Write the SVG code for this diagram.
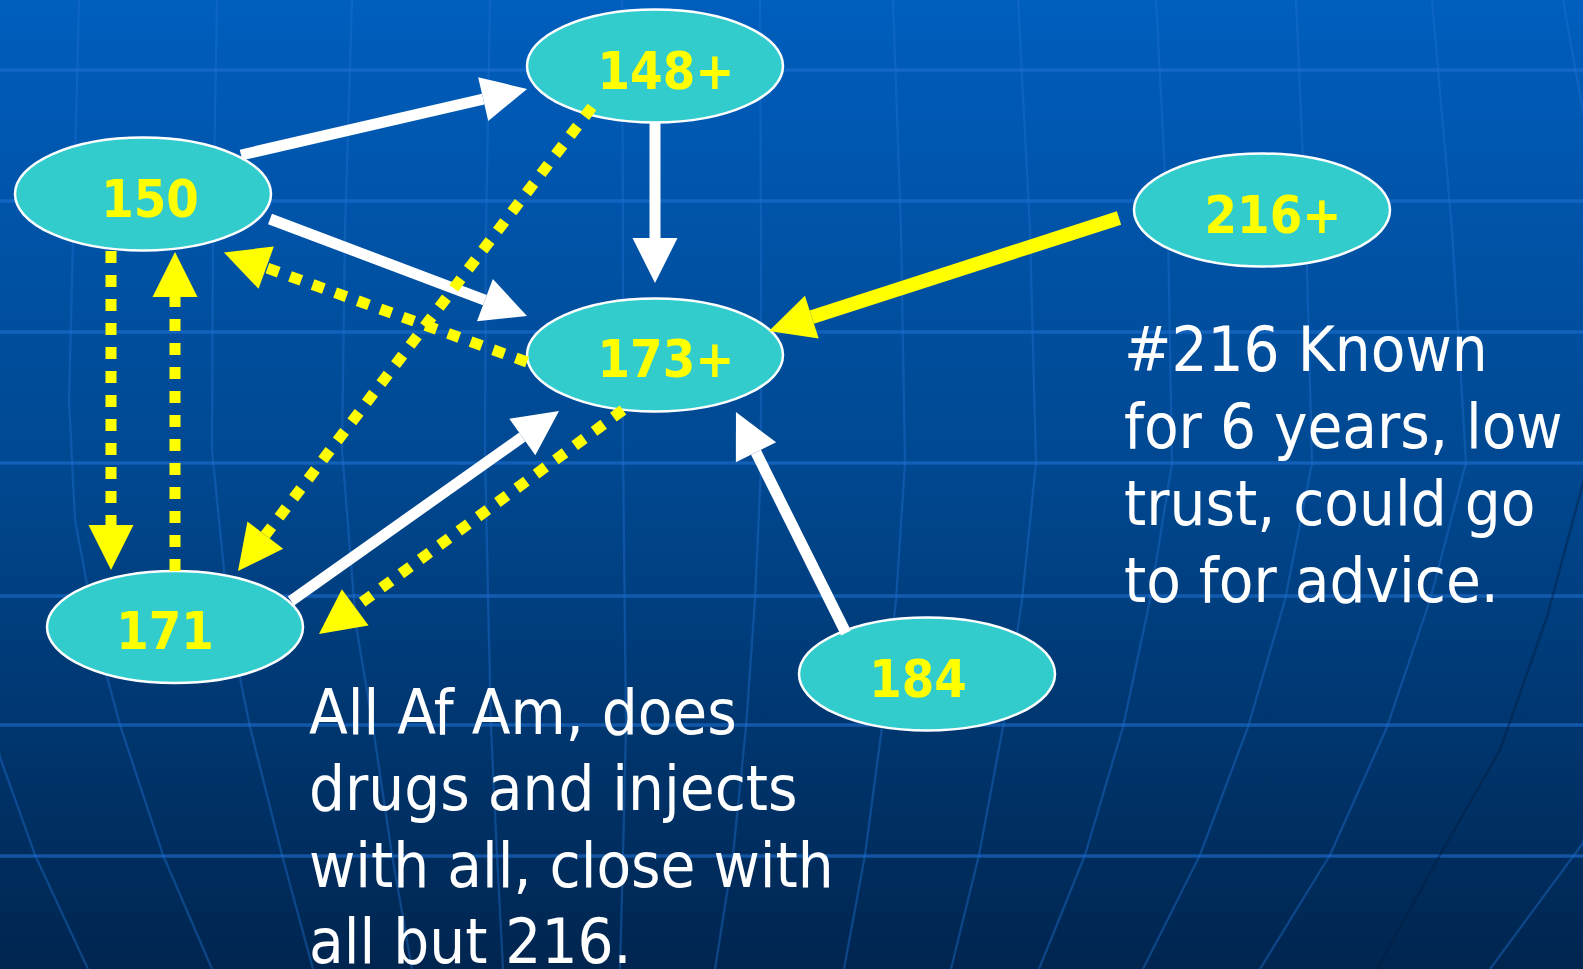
<svg xmlns="http://www.w3.org/2000/svg" width="1583" height="969" viewBox="0 0 1583 969">
<defs>
<linearGradient id="bg" x1="0" y1="0" x2="0" y2="1">
<stop offset="0" stop-color="#005ebd"/>
<stop offset="0.5" stop-color="#00478f"/>
<stop offset="1" stop-color="#00254f"/>
</linearGradient>
<marker id="hw" markerUnits="userSpaceOnUse" markerWidth="45" markerHeight="45" viewBox="0 0 45 45" refX="0" refY="22.5" orient="auto" overflow="visible"><path d="M0,0 L45,22.5 L0,45 z" fill="#ffffff"/></marker>
<marker id="hy" markerUnits="userSpaceOnUse" markerWidth="45" markerHeight="45" viewBox="0 0 45 45" refX="0" refY="22.5" orient="auto" overflow="visible"><path d="M0,0 L45,22.5 L0,45 z" fill="#ffff00"/></marker>
<style>
.hl{stroke:#1e6fd0;stroke-opacity:0.6;stroke-width:3.3;fill:none}
.ml{stroke:#1e6fd0;stroke-opacity:0.42;stroke-width:2.3;fill:none;stroke-linejoin:round}
.node ellipse{fill:#33cccc;stroke:#ffffff;stroke-width:2.5}
.lbl{font-family:"DejaVu Sans Condensed","DejaVu Sans",sans-serif;font-weight:bold;font-size:52px;fill:#ffff00;text-anchor:middle}
.note{font-family:"DejaVu Sans Condensed","DejaVu Sans",sans-serif;font-size:63px;fill:#ffffff}
.w{stroke:#ffffff;stroke-width:11;fill:none;marker-end:url(#hw)}
.ys{stroke:#ffff00;stroke-width:14;fill:none;marker-end:url(#hy)}
.d{stroke:#ffff00;stroke-width:11;fill:none;stroke-dasharray:12 12;marker-end:url(#hy)}
</style>
</defs>
<rect x="0" y="0" width="1583" height="969" fill="url(#bg)"/>
<g id="grid">
<line class="hl" x1="0" y1="70" x2="1583" y2="70"/>
<line class="hl" x1="0" y1="201" x2="1583" y2="201"/>
<line class="hl" x1="0" y1="332" x2="1583" y2="332"/>
<line class="hl" x1="0" y1="463" x2="1583" y2="463"/>
<line class="hl" x1="0" y1="596" x2="1583" y2="596" stroke-opacity="0.3"/>
<line class="hl" x1="0" y1="725" x2="1583" y2="725"/>
<line class="hl" x1="0" y1="856" x2="1583" y2="856"/>
<path class="ml" d="M-40,600 L0,757 L35,855 L88,969"/>
<path class="ml" d="M79,0 L74,200 L69,400 L75,520 L90,600 L107,677 L120,725 L163,855 L212,969"/>
<path class="ml" d="M217,0 L213,230 L212,450 L225,580 L241,683 L250,727 L282,855 L313,969"/>
<path class="ml" d="M352,0 L345,230 L342,450 L356,625 L373,727 L392,855 L412,969"/>
<path class="ml" d="M490,0 L486,230 L485,450 L488,597 L491,727 L497,855 L503,969"/>
<path class="ml" d="M622,0 L623,230 L623,450 L626,727 L623,855 L620,969"/>
<path class="ml" d="M760,0 L761,230 L761,467 L755,600 L746,727 L733,855 L715,969"/>
<path class="ml" d="M893,0 L901,230 L905,463 L896,600 L882,727 L865,855 L844,969"/>
<path class="ml" d="M1018,0 L1030,230 L1036,463 L1022,600 L1003,727 L979,855 L951,969"/>
<path class="ml" d="M1156,0 L1168,230 L1172,463 L1150,600 L1123,727 L1085,855 L1039,969"/>
<path class="ml" d="M1296,0 L1306,230 L1312,463 L1285,600 L1248,727 L1200,855 L1143,969"/>
<path class="ml" d="M1432,0 L1452,230 L1466,463 L1430,600 L1387,727 L1330,855 L1260,969"/>
<path class="ml" d="M1563,0 L1590,150 L1610,500 L1600,760 L1583,843 L1490,969"/>
<path d="M1600,420 L1547,617 L1500,750 L1440,855 L1377,969" fill="none" stroke="#001c3c" stroke-opacity="0.4" stroke-width="2.5"/>
</g>
<g id="node-148" class="node"><ellipse cx="655" cy="66" rx="128" ry="56.5"/><text class="lbl" x="666" y="89">148+</text></g>
<g id="node-150" class="node"><ellipse cx="143" cy="194" rx="128" ry="56.5"/><text class="lbl" x="150" y="217">150</text></g>
<g id="node-173" class="node"><ellipse cx="655" cy="355" rx="128" ry="56.5"/><text class="lbl" x="666" y="377">173+</text></g>
<g id="node-216" class="node"><ellipse cx="1262" cy="210" rx="128" ry="56.5"/><text class="lbl" x="1273" y="233">216+</text></g>
<g id="node-171" class="node"><ellipse cx="175" cy="627" rx="128" ry="56"/><text class="lbl" x="165" y="649">171</text></g>
<g id="node-184" class="node"><ellipse cx="927" cy="674" rx="128" ry="56.5"/><text class="lbl" x="918" y="697">184</text></g>
<g id="connectors">
<line class="w" x1="241" y1="155" x2="483.2" y2="99.1"/>
<line class="w" x1="270" y1="219" x2="484.9" y2="300.1"/>
<line class="w" x1="655" y1="123" x2="655" y2="238"/>
<line class="w" x1="291" y1="601" x2="522.3" y2="437"/>
<line class="w" x1="846" y1="633" x2="756" y2="452.3"/>
<line class="ys" x1="1119" y1="218" x2="811.8" y2="317.2"/>
<line class="d" x1="111" y1="251" x2="111" y2="525"/>
<line class="d" x1="175" y1="571" x2="175" y2="297"/>
<line class="d" x1="527" y1="362" x2="266.2" y2="267.7"/>
<line class="d" x1="592" y1="107" x2="265.3" y2="535.2"/>
<line class="d" x1="623" y1="410" x2="355.2" y2="607.3"/>
</g>
<g id="note-group">
<text class="note" x="309" y="734">All Af Am, does</text>
<text class="note" x="309" y="810">drugs and injects</text>
<text class="note" x="309" y="887">with all, close with</text>
<text class="note" x="309" y="963">all but 216.</text>
</g>
<g id="note-216">
<text class="note" x="1124" y="371">#216 Known</text>
<text class="note" x="1124" y="448">for 6 years, low</text>
<text class="note" x="1124" y="525">trust, could go</text>
<text class="note" x="1124" y="602">to for advice.</text>
</g>
</svg>
